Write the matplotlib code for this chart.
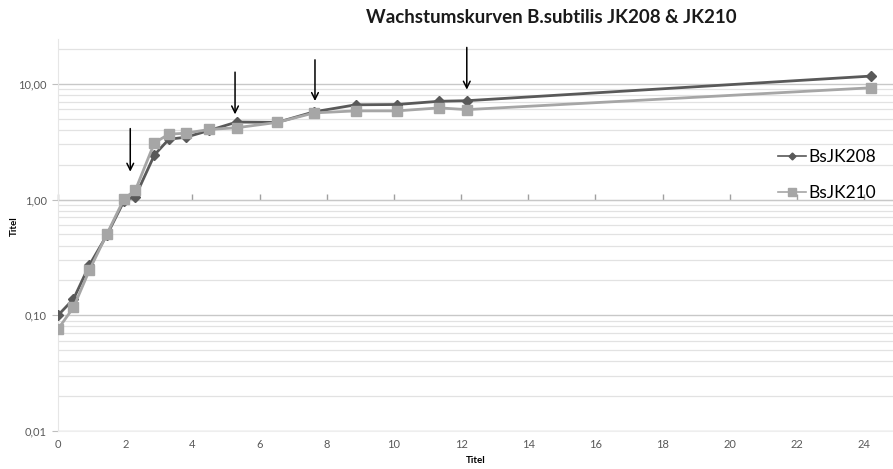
import math

import matplotlib
matplotlib.use('Agg')
import matplotlib.pyplot as plt
from matplotlib.ticker import FixedLocator, LogLocator, NullFormatter, FuncFormatter

plt.rcParams['font.family'] = ['Lato', 'DejaVu Sans']

# time in hours
time_h = [0, 0.46, 0.93, 1.45, 1.97, 2.3, 2.87, 3.3, 3.8, 4.5, 5.32, 6.53, 7.62, 8.86, 10.09, 11.35, 12.17, 24.2]
# optical density
od_208 = [0.10, 0.138, 0.27, 0.49, 0.98, 1.06, 2.43, 3.32, 3.45, 3.95, 4.67, 4.64, 5.72, 6.58, 6.62, 7.06, 7.14, 11.65]
od_210 = [0.076, 0.117, 0.244, 0.50, 1.02, 1.2, 3.09, 3.67, 3.74, 4.03, 4.17, 4.64, 5.6, 5.83, 5.83, 6.19, 5.98, 9.23]

# arrows: x position, start value, end value
arrow_x = [2.15, 5.27, 7.65, 12.17]
arrow_top = [4.1, 12.6, 16.1, 20.6]
arrow_tip = [1.74, 5.44, 7.1, 8.9]

fig = plt.figure(figsize=(8.93, 4.69), dpi=100)
ax = fig.add_axes([0.065, 0.081, 0.935, 0.836])

ax.set_yscale('log')
ax.set_xlim(0, 24.86)
ax.set_ylim(0.01, 24.4)

ax.plot(time_h, od_208, color='#595959', lw=2, marker='D', ms=5, label='BsJK208', zorder=3)
ax.plot(time_h, od_210, color='#a6a6a6', lw=2, marker='s', ms=7.5, label='BsJK210', zorder=4)

for x, y0, y1 in zip(arrow_x, arrow_top, arrow_tip):
    ax.annotate('', xy=(x, y1), xytext=(x, y0),
                arrowprops=dict(arrowstyle='->', color='black', lw=1.1,
                                shrinkA=0, shrinkB=0, mutation_scale=12),
                zorder=5)

# grid
ax.yaxis.set_major_locator(FixedLocator([0.01, 0.1, 1, 10]))
ax.yaxis.set_minor_locator(LogLocator(base=10, subs=range(2, 10)))
ax.yaxis.set_minor_formatter(NullFormatter())
ax.yaxis.set_major_formatter(FuncFormatter(lambda v, p: '{:.2f}'.format(v).replace('.', ',')))
ax.grid(True, which='major', axis='y', color='#c8c8c8', lw=1)
ax.grid(True, which='minor', axis='y', color='#e2e2e2', lw=0.9)
ax.set_axisbelow(True)

ax.set_xticks(range(0, 25, 2))
ax.tick_params(axis='x', length=0, labelsize=8, labelcolor='#595959', pad=6)
ax.tick_params(axis='y', which='major', length=4, color='#bfbfbf', labelsize=8, labelcolor='#595959', pad=4)
ax.tick_params(axis='y', which='minor', length=0)

for side in ['top', 'right']:
    ax.spines[side].set_visible(False)
ax.spines['left'].set_color('#e6e6e6')
ax.spines['bottom'].set_color('#eeeeee')

# horizontal axis crossing at 1
ymin, ymax = ax.get_ylim()
cross = (math.log10(1) - math.log10(ymin)) / (math.log10(ymax) - math.log10(ymin))
sec = ax.secondary_xaxis(cross)
sec.set_xticks(range(0, 25, 2))
sec.tick_params(axis='x', direction='out', length=4, width=1, color='#a0a0a0',
                labelbottom=False, labeltop=False)
sec.spines['bottom'].set_color('#bfbfbf')
sec.spines['top'].set_color('#bfbfbf')

ax.set_xlabel('Titel', fontsize=7, fontweight='bold', labelpad=4)
ax.set_ylabel('Titel', fontsize=7, fontweight='bold')
ax.yaxis.set_label_coords(-0.047, 0.523)

fig.text(0.6176, 0.962, 'Wachstumskurven B.subtilis JK208 & JK210', ha='center', va='center',
         fontsize=13.5, fontweight='bold', color='#1a1a1a')

leg = ax.legend(loc='upper left', bbox_to_anchor=(0.862, 0.72), frameon=False, fontsize=12.5,
                handlelength=1.6, handletextpad=0.15, labelspacing=1.15, borderaxespad=0, borderpad=0)
for h in leg.legend_handles:
    h.set_linewidth(1.2)
    h.set_markersize(h.get_markersize() * 0.7)

fig.savefig('out.png', dpi=100)
